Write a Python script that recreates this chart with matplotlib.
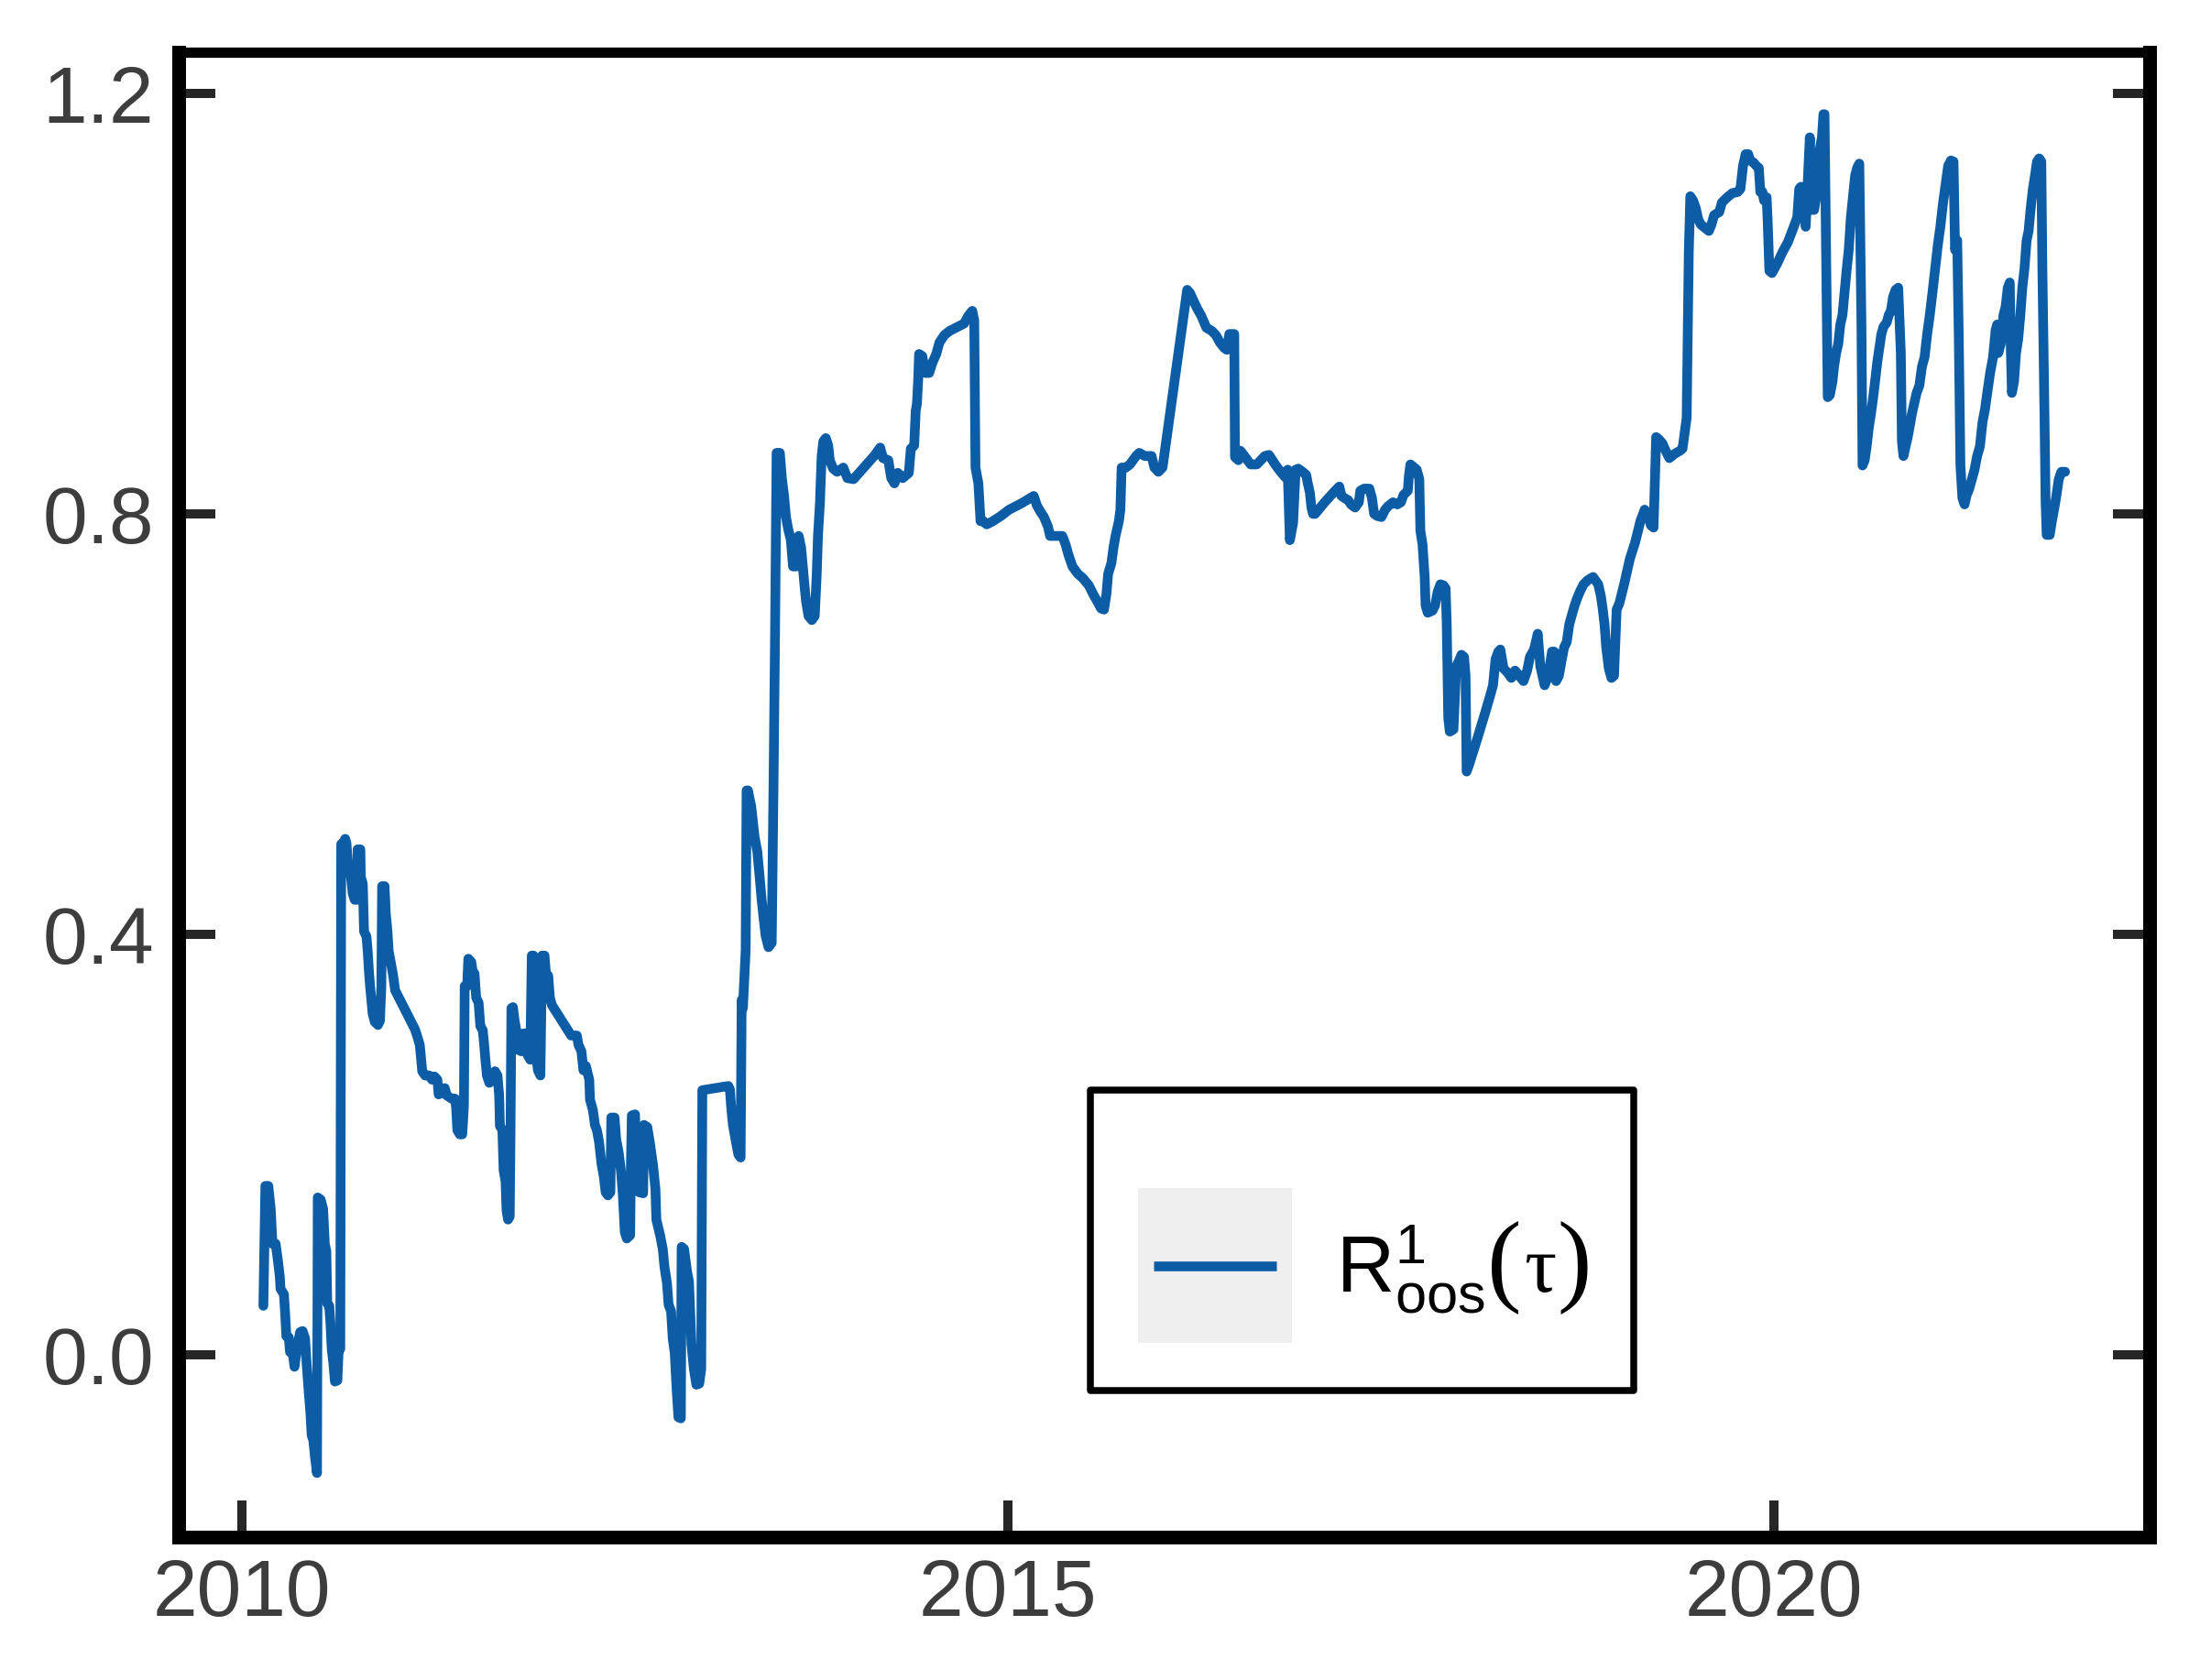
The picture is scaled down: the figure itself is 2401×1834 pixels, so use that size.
import numpy as np
import matplotlib
matplotlib.use('Agg')
import matplotlib.pyplot as plt
from matplotlib.patches import Rectangle
from matplotlib.lines import Line2D
from matplotlib.offsetbox import DrawingArea, TextArea, HPacker, AnchoredOffsetbox

# ---------------- data (decimal year, value) ----------------
years = [
    2010.140, 2010.153, 2010.172, 2010.188, 2010.199, 2010.220, 2010.234, 2010.247, 2010.252, 2010.274,
    2010.282, 2010.290, 2010.306, 2010.314, 2010.333, 2010.343, 2010.359, 2010.380, 2010.396, 2010.412,
    2010.421, 2010.434, 2010.447, 2010.455, 2010.466, 2010.477, 2010.490, 2010.495, 2010.514, 2010.530,
    2010.541, 2010.551, 2010.557, 2010.570, 2010.578, 2010.586, 2010.597, 2010.607, 2010.623, 2010.631,
    2010.642, 2010.648, 2010.661, 2010.674, 2010.682, 2010.696, 2010.709, 2010.723, 2010.736, 2010.750,
    2010.755, 2010.773, 2010.776, 2010.789, 2010.797, 2010.813, 2010.821, 2010.829, 2010.837, 2010.845,
    2010.853, 2010.867, 2010.888, 2010.901, 2010.910, 2010.915, 2010.931, 2010.939, 2010.950, 2010.958,
    2010.971, 2010.987, 2011.000, 2011.129, 2011.145, 2011.161, 2011.177, 2011.196, 2011.222, 2011.241,
    2011.257, 2011.276, 2011.284, 2011.311, 2011.324, 2011.337, 2011.369, 2011.390, 2011.398, 2011.406,
    2011.422, 2011.438, 2011.449, 2011.454, 2011.470, 2011.478, 2011.497, 2011.510, 2011.518, 2011.529,
    2011.545, 2011.556, 2011.572, 2011.580, 2011.588, 2011.599, 2011.615, 2011.636, 2011.652, 2011.668,
    2011.679, 2011.684, 2011.700, 2011.708, 2011.721, 2011.727, 2011.737, 2011.748, 2011.753, 2011.759,
    2011.769, 2011.780, 2011.791, 2011.796, 2011.823, 2011.839, 2011.855, 2011.866, 2011.882, 2011.892,
    2011.903, 2011.916, 2011.932, 2011.948, 2011.959, 2011.975, 2011.988, 2011.999, 2012.010, 2012.023,
    2012.149, 2012.186, 2012.197, 2012.216, 2012.229, 2012.245, 2012.267, 2012.272, 2012.291, 2012.304,
    2012.317, 2012.331, 2012.347, 2012.363, 2012.374, 2012.389, 2012.405, 2012.411, 2012.432, 2012.443,
    2012.459, 2012.475, 2012.486, 2012.499, 2012.512, 2012.534, 2012.539, 2012.545, 2012.566, 2012.576,
    2012.592, 2012.619, 2012.624, 2012.646, 2012.665, 2012.683, 2012.699, 2012.705, 2012.731, 2012.747,
    2012.758, 2012.774, 2012.785, 2012.801, 2012.812, 2012.825, 2012.838, 2012.849, 2012.865, 2012.870,
    2012.886, 2012.905, 2012.918, 2012.934, 2012.950, 2012.966, 2012.985, 2012.998, 2013.005, 2013.175,
    2013.185, 2013.195, 2013.205, 2013.222, 2013.240, 2013.255, 2013.262, 2013.270, 2013.278, 2013.288,
    2013.294, 2013.303, 2013.324, 2013.346, 2013.364, 2013.378, 2013.391, 2013.404, 2013.418, 2013.437,
    2013.458, 2013.471, 2013.479, 2013.490, 2013.511, 2013.525, 2013.538, 2013.551, 2013.565, 2013.583,
    2013.597, 2013.618, 2013.634, 2013.650, 2013.661, 2013.672, 2013.682, 2013.698, 2013.720, 2013.739,
    2013.752, 2013.760, 2013.773, 2013.784, 2013.795, 2013.811, 2013.827, 2013.837, 2013.859, 2013.885,
    2013.925, 2013.952, 2013.992, 2014.059, 2014.126, 2014.166, 2014.185, 2014.219, 2014.238, 2014.259,
    2014.281, 2014.313, 2014.353, 2014.366, 2014.388, 2014.398, 2014.406, 2014.414, 2014.420, 2014.441,
    2014.460, 2014.486, 2014.505, 2014.532, 2014.553, 2014.585, 2014.620, 2014.660, 2014.714, 2014.740,
    2014.767, 2014.780, 2014.788, 2014.807, 2014.821, 2014.840, 2014.861, 2014.901, 2014.954, 2015.008,
    2015.088, 2015.168, 2015.189, 2015.208, 2015.235, 2015.261, 2015.275, 2015.355, 2015.376, 2015.395,
    2015.421, 2015.456, 2015.488, 2015.528, 2015.555, 2015.582, 2015.608, 2015.627, 2015.643, 2015.654,
    2015.675, 2015.689, 2015.702, 2015.724, 2015.734, 2015.742, 2015.769, 2015.796, 2015.836, 2015.857,
    2015.894, 2015.937, 2015.956, 2015.982, 2016.009, 2016.170, 2016.188, 2016.210, 2016.236, 2016.263,
    2016.295, 2016.330, 2016.357, 2016.383, 2016.410, 2016.429, 2016.445, 2016.477, 2016.482, 2016.504,
    2016.517, 2016.544, 2016.584, 2016.624, 2016.677, 2016.704, 2016.744, 2016.780, 2016.809, 2016.826,
    2016.840, 2016.861, 2016.878, 2016.895, 2016.923, 2016.947, 2016.957, 2016.971, 2016.981, 2016.991,
    2017.005, 2017.067, 2017.136, 2017.163, 2017.177, 2017.197, 2017.221, 2017.239, 2017.266, 2017.290,
    2017.300, 2017.325, 2017.359, 2017.376, 2017.390, 2017.410, 2017.438, 2017.462, 2017.479, 2017.513,
    2017.541, 2017.565, 2017.582, 2017.610, 2017.617, 2017.627, 2017.644, 2017.668, 2017.685, 2017.692,
    2017.706, 2017.720, 2017.726, 2017.740, 2017.771, 2017.788, 2017.805, 2017.823, 2017.843, 2017.857,
    2017.864, 2017.874, 2017.884, 2017.908, 2017.926, 2017.943, 2017.960, 2017.977, 2017.987, 2017.994,
    2018.011, 2018.063, 2018.115, 2018.149, 2018.166, 2018.183, 2018.201, 2018.214, 2018.235, 2018.262,
    2018.286, 2018.310, 2018.338, 2018.365, 2018.389, 2018.407, 2018.434, 2018.458, 2018.475, 2018.503,
    2018.527, 2018.551, 2018.565, 2018.578, 2018.596, 2018.613, 2018.630, 2018.647, 2018.664, 2018.681,
    2018.699, 2018.716, 2018.733, 2018.757, 2018.785, 2018.819, 2018.853, 2018.870, 2018.881, 2018.894,
    2018.905, 2018.922, 2018.939, 2018.956, 2018.973, 2018.991, 2019.025, 2019.059, 2019.094, 2019.128,
    2019.156, 2019.180, 2019.197, 2019.214, 2019.231, 2019.248, 2019.272, 2019.293, 2019.317, 2019.351,
    2019.386, 2019.403, 2019.430, 2019.437, 2019.444, 2019.454, 2019.472, 2019.489, 2019.506, 2019.523,
    2019.540, 2019.557, 2019.575, 2019.592, 2019.609, 2019.643, 2019.660, 2019.695, 2019.729, 2019.763,
    2019.781, 2019.798, 2019.815, 2019.832, 2019.843, 2019.867, 2019.884, 2019.901, 2019.911, 2019.925,
    2019.935, 2019.952, 2019.959, 2019.970, 2019.987, 2020.021, 2020.056, 2020.090, 2020.124, 2020.152,
    2020.165, 2020.176, 2020.193, 2020.207, 2020.221, 2020.234, 2020.248, 2020.262, 2020.279, 2020.296,
    2020.313, 2020.323, 2020.330, 2020.351, 2020.365, 2020.382, 2020.392, 2020.406, 2020.420, 2020.433,
    2020.447, 2020.461, 2020.475, 2020.488, 2020.502, 2020.516, 2020.530, 2020.543, 2020.557, 2020.571,
    2020.578, 2020.592, 2020.605, 2020.619, 2020.633, 2020.646, 2020.660, 2020.674, 2020.688, 2020.701,
    2020.715, 2020.736, 2020.749, 2020.763, 2020.777, 2020.794, 2020.811, 2020.828, 2020.835, 2020.845,
    2020.859, 2020.873, 2020.887, 2020.900, 2020.914, 2020.931, 2020.949, 2020.966, 2020.983, 2021.000,
    2021.017, 2021.035, 2021.052, 2021.069, 2021.086, 2021.103, 2021.120, 2021.137, 2021.155, 2021.172,
    2021.182, 2021.196, 2021.206, 2021.217, 2021.230, 2021.244, 2021.258, 2021.275, 2021.292, 2021.309,
    2021.326, 2021.344, 2021.361, 2021.378, 2021.395, 2021.412, 2021.430, 2021.447, 2021.457, 2021.464,
    2021.481, 2021.498, 2021.512, 2021.526, 2021.539, 2021.546, 2021.553, 2021.567, 2021.580, 2021.594,
    2021.608, 2021.621, 2021.635, 2021.649, 2021.662, 2021.676, 2021.690, 2021.704, 2021.717, 2021.731,
    2021.745, 2021.752, 2021.766, 2021.773, 2021.780, 2021.800, 2021.814, 2021.828, 2021.841, 2021.859,
    2021.876, 2021.900,
]

values = [
    0.047, 0.161, 0.161, 0.139, 0.106, 0.106, 0.091, 0.075, 0.063, 0.058,
    0.040, 0.018, 0.017, 0.003, 0.001, -0.011, 0.006, 0.022, 0.023, 0.016,
    -0.005, -0.031, -0.055, -0.076, -0.081, -0.097, -0.112, 0.150, 0.148, 0.139,
    0.106, 0.099, 0.049, 0.047, 0.030, 0.006, -0.008, -0.025, -0.024, 0.004,
    0.006, 0.486, 0.487, 0.491, 0.487, 0.458, 0.459, 0.439, 0.433, 0.433,
    0.481, 0.481, 0.455, 0.448, 0.403, 0.398, 0.384, 0.365, 0.350, 0.337,
    0.325, 0.317, 0.314, 0.318, 0.351, 0.446, 0.446, 0.420, 0.403, 0.384,
    0.374, 0.361, 0.347, 0.310, 0.303, 0.295, 0.270, 0.266, 0.266, 0.262,
    0.265, 0.262, 0.248, 0.250, 0.254, 0.247, 0.244, 0.244, 0.236, 0.214,
    0.210, 0.210, 0.237, 0.351, 0.351, 0.377, 0.374, 0.361, 0.363, 0.340,
    0.335, 0.313, 0.309, 0.297, 0.283, 0.266, 0.259, 0.262, 0.270, 0.266,
    0.247, 0.218, 0.214, 0.176, 0.165, 0.138, 0.129, 0.132, 0.210, 0.330,
    0.331, 0.318, 0.309, 0.291, 0.289, 0.306, 0.306, 0.285, 0.281, 0.380,
    0.380, 0.290, 0.271, 0.266, 0.380, 0.380, 0.356, 0.361, 0.340, 0.333,
    0.304, 0.304, 0.295, 0.289, 0.271, 0.275, 0.262, 0.243, 0.233, 0.219,
    0.214, 0.203, 0.182, 0.169, 0.155, 0.152, 0.155, 0.226, 0.226, 0.205,
    0.193, 0.174, 0.153, 0.117, 0.111, 0.114, 0.181, 0.228, 0.229, 0.176,
    0.155, 0.154, 0.219, 0.217, 0.200, 0.181, 0.158, 0.129, 0.113, 0.101,
    0.084, 0.069, 0.048, 0.042, 0.016, 0.002, -0.034, -0.059, -0.060, 0.103,
    0.101, 0.080, 0.070, 0.011, -0.013, -0.028, -0.027, -0.013, 0.252, 0.256,
    0.253, 0.233, 0.219, 0.205, 0.191, 0.188, 0.338, 0.330, 0.355, 0.385,
    0.537, 0.537, 0.522, 0.493, 0.479, 0.457, 0.435, 0.417, 0.399, 0.388,
    0.392, 0.558, 0.674, 0.858, 0.858, 0.833, 0.818, 0.797, 0.786, 0.775,
    0.750, 0.750, 0.779, 0.768, 0.750, 0.732, 0.717, 0.703, 0.699, 0.703,
    0.743, 0.779, 0.811, 0.855, 0.869, 0.872, 0.865, 0.851, 0.843, 0.840,
    0.844, 0.834, 0.833, 0.844, 0.855, 0.863, 0.853, 0.851, 0.834, 0.829,
    0.839, 0.834, 0.839, 0.862, 0.865, 0.898, 0.905, 0.927, 0.952, 0.950,
    0.934, 0.934, 0.943, 0.952, 0.963, 0.970, 0.974, 0.977, 0.981, 0.988,
    0.993, 0.984, 0.844, 0.829, 0.793, 0.793, 0.790, 0.793, 0.798, 0.804,
    0.810, 0.817, 0.808, 0.803, 0.797, 0.788, 0.779, 0.779, 0.771, 0.761,
    0.750, 0.743, 0.739, 0.732, 0.724, 0.717, 0.710, 0.709, 0.724, 0.743,
    0.753, 0.768, 0.779, 0.793, 0.804, 0.844, 0.844, 0.847, 0.855, 0.858,
    0.855, 0.855, 0.844, 0.840, 0.844, 1.013, 1.010, 1.003, 0.995, 0.988,
    0.977, 0.974, 0.970, 0.963, 0.958, 0.956, 0.971, 0.971, 0.854, 0.851,
    0.860, 0.855, 0.847, 0.847, 0.855, 0.856, 0.847, 0.840, 0.835, 0.842,
    0.775, 0.791, 0.842, 0.843, 0.840, 0.837, 0.829, 0.820, 0.806, 0.800,
    0.800, 0.811, 0.822, 0.826, 0.817, 0.815, 0.813, 0.809, 0.806, 0.811,
    0.822, 0.824, 0.824, 0.815, 0.800, 0.798, 0.797, 0.804, 0.807, 0.811,
    0.809, 0.811, 0.818, 0.822, 0.836, 0.847, 0.845, 0.842, 0.833, 0.784,
    0.771, 0.740, 0.713, 0.706, 0.708, 0.713, 0.726, 0.733, 0.732, 0.729,
    0.695, 0.606, 0.593, 0.595, 0.655, 0.660, 0.666, 0.664, 0.646, 0.555,
    0.562, 0.586, 0.611, 0.628, 0.637, 0.662, 0.669, 0.671, 0.653, 0.649,
    0.644, 0.651, 0.646, 0.641, 0.651, 0.664, 0.671, 0.686, 0.655, 0.637,
    0.646, 0.669, 0.669, 0.641, 0.646, 0.660, 0.673, 0.678, 0.695, 0.704,
    0.713, 0.720, 0.726, 0.733, 0.737, 0.740, 0.733, 0.722, 0.711, 0.695,
    0.673, 0.653, 0.644, 0.646, 0.709, 0.715, 0.735, 0.757, 0.773, 0.793,
    0.804, 0.797, 0.789, 0.787, 0.873, 0.871, 0.867, 0.860, 0.853, 0.857,
    0.860, 0.862, 0.891, 0.971, 1.049, 1.102, 1.098, 1.091, 1.080, 1.075,
    1.073, 1.071, 1.069, 1.075, 1.084, 1.087, 1.096, 1.101, 1.105, 1.106,
    1.109, 1.131, 1.142, 1.142, 1.136, 1.134, 1.131, 1.129, 1.106, 1.106,
    1.098, 1.101, 1.078, 1.031, 1.029, 1.038, 1.049, 1.058, 1.071, 1.082,
    1.109, 1.111, 1.095, 1.073, 1.118, 1.158, 1.089, 1.089, 1.104, 1.144,
    1.158, 1.180, 1.180, 0.911, 0.913, 0.926, 0.940, 0.953, 0.962, 0.980,
    0.989, 1.011, 1.033, 1.051, 1.082, 1.102, 1.122, 1.129, 1.133, 0.980,
    0.846, 0.851, 0.864, 0.882, 0.895, 0.909, 0.926, 0.944, 0.958, 0.971,
    0.978, 0.982, 0.989, 0.993, 1.006, 1.013, 1.015, 0.953, 0.869, 0.855,
    0.864, 0.873, 0.884, 0.895, 0.904, 0.915, 0.922, 0.940, 0.949, 0.971,
    0.989, 1.011, 1.033, 1.055, 1.073, 1.095, 1.113, 1.131, 1.136, 1.135,
    1.051, 1.060, 0.971, 0.846, 0.815, 0.809, 0.818, 0.824, 0.833, 0.842,
    0.855, 0.864, 0.887, 0.900, 0.918, 0.935, 0.949, 0.975, 0.980, 0.953,
    0.962, 0.989, 0.997, 1.015, 1.020, 0.957, 0.915, 0.926, 0.953, 0.966,
    0.989, 1.015, 1.033, 1.060, 1.069, 1.091, 1.109, 1.122, 1.135, 1.138,
    1.135, 1.033, 0.891, 0.811, 0.780, 0.780, 0.793, 0.804, 0.815, 0.833,
    0.840, 0.840,
]

x_ticks = [2010, 2015, 2020]
x_ticklabels = ['2010', '2015', '2020']
y_ticks = [0.0, 0.4, 0.8, 1.2]
y_ticklabels = ['0.0', '0.4', '0.8', '1.2']
# legend label R^1_oos(τ), split in pieces so the brackets can be taller
label_main = r'$\mathregular{R}^{\mathregular{1}}_{\mathregular{oos}}$'
label_open, label_arg, label_close = '(', '\u03c4', ')'

# ---------------- style ----------------
plt.rcParams['font.family'] = ['Liberation Sans', 'DejaVu Sans']
plt.rcParams['mathtext.fontset'] = 'stix'

LINE_COLOR = '#0C5DA5'
TICK_COLOR = '#262626'
LABEL_COLOR = '#3d3d3d'
LINE_W = 2.55

fig = plt.figure(figsize=(2401.5 / 300, 1834.5 / 300), dpi=300)
ax = fig.add_axes([0.0814, 0.0853, 0.9769 - 0.0814, 0.9685 - 0.0853])

line, = ax.plot(years, values, color=LINE_COLOR, lw=LINE_W,
                solid_joinstyle='round', solid_capstyle='round', zorder=2)

ax.set_xlim(2009.59, 2022.452)
ax.set_ylim(-0.1725, 1.2387)
ax.set_xticks(x_ticks)
ax.set_xticklabels(x_ticklabels)
ax.set_yticks(y_ticks)
ax.set_yticklabels(y_ticklabels)

for side in ['left', 'bottom', 'right']:
    ax.spines[side].set_linewidth(3.6)
    ax.spines[side].set_color('black')
ax.spines['top'].set_linewidth(2.7)
ax.spines['top'].set_color('black')

ax.tick_params(axis='both', direction='in', length=9.5, width=2.4,
               color=TICK_COLOR, labelsize=21, labelcolor=LABEL_COLOR)
ax.tick_params(axis='y', left=True, right=True, labelleft=True,
               labelright=False, pad=6.5)
ax.tick_params(axis='x', bottom=True, top=False, pad=5.5)

# ---------------- legend ----------------
frame = Rectangle((0.4626, 0.0982), 0.7384 - 0.4626, 0.3007 - 0.0982,
                  transform=ax.transAxes, facecolor='white',
                  edgecolor='black', lw=1.8, joinstyle='round', zorder=4)
ax.add_patch(frame)

key_w, key_h, key_desc = 40.3, 40.5, 13.56   # points
key = DrawingArea(key_w, key_h, xdescent=0.0, ydescent=key_desc)
key.add_artist(Rectangle((0, -key_desc), key_w, key_h,
                         facecolor='#efefef', edgecolor='none'))
yc = -key_desc + key_h / 2.0
key.add_artist(Line2D([0.1 * key_w, 0.9 * key_w], [yc, yc],
                      color=LINE_COLOR, lw=LINE_W, solid_capstyle='butt'))

t_main = TextArea(label_main, textprops=dict(size=21, color='black'))
t_open = TextArea(label_open, textprops=dict(size=27, color='black',
                                             family='Liberation Serif'))
t_arg = TextArea(label_arg, textprops=dict(size=21, color='black',
                                           family='Liberation Serif'))
t_close = TextArea(label_close, textprops=dict(size=27, color='black',
                                               family='Liberation Serif'))
label_box = HPacker(children=[t_main, t_open, t_arg, t_close],
                    align='baseline', pad=0, sep=0.5)
row = HPacker(children=[key, label_box], align='baseline', pad=0, sep=11.5)

legend_box = AnchoredOffsetbox(loc='lower left', child=row, pad=0,
                               borderpad=0, frameon=False,
                               bbox_to_anchor=(0.4867, 0.1306),
                               bbox_transform=ax.transAxes)
legend_box.set_zorder(5)
ax.add_artist(legend_box)

fig.savefig('out.png', dpi=300)
